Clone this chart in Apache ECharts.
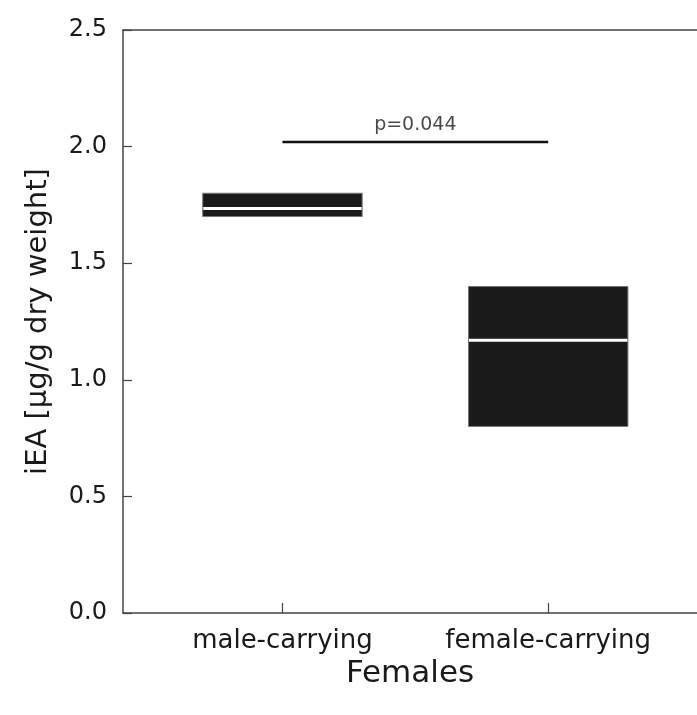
<!DOCTYPE html>
<html>
<head>
<meta charset="utf-8">
<script src="https://cdn.jsdelivr.net/npm/echarts@6/dist/echarts.min.js"></script>
<style>html,body{margin:0;padding:0;background:#fff;}#c{width:697px;height:715px;}</style>
</head>
<body>
<div id="c"></div>
<script>
var categories = ['male-carrying', 'female-carrying'];
var positions = [1, 2];
var q1Values = [1.70, 0.80];
var medianValues = [1.735, 1.17];
var q3Values = [1.80, 1.40];
var yTicks = [0, 0.5, 1.0, 1.5, 2.0, 2.5];
var sigFrom = 1, sigTo = 2, sigLevel = 2.02;
var sigText = 'p=0.044';

var FONT = 'DejaVu Sans';
var boxHalf = 0.3;
var AX = '#444';

var boxData = positions.map(function (p, i) { return [p, q1Values[i], medianValues[i], q3Values[i]]; });

var chart = echarts.init(document.getElementById('c'));
chart.setOption({
  animation: false,
  backgroundColor: '#fff',
  grid: { left: 123, top: 30, right: 0, bottom: 102 },
  xAxis: [{
    type: 'value', min: 0.4, max: 2.56,
    splitLine: { show: false },
    axisLine: { show: true, lineStyle: { color: AX, width: 1.5 } },
    axisTick: { show: true, inside: true, length: 10, customValues: positions, lineStyle: { color: AX, width: 1.2 } },
    axisLabel: { customValues: positions, margin: 15, fontFamily: FONT, fontSize: 26, color: '#1a1a1a',
      formatter: function (v) { var i = positions.indexOf(v); return i >= 0 ? categories[i] : ''; } },
    name: 'Females', nameLocation: 'middle', nameGap: 44,
    nameTextStyle: { fontFamily: FONT, fontSize: 31, color: '#1a1a1a' }
  }, {
    type: 'value', position: 'top', min: 0.4, max: 2.56,
    splitLine: { show: false },
    axisLine: { show: true, lineStyle: { color: AX, width: 1.5 } },
    axisTick: { show: false }, axisLabel: { show: false }
  }],
  yAxis: {
    type: 'value', min: yTicks[0], max: yTicks[yTicks.length - 1], interval: 0.5,
    splitLine: { show: false },
    axisLine: { show: true, lineStyle: { color: AX, width: 1.5 } },
    axisTick: { show: true, inside: true, length: 9, lineStyle: { color: AX, width: 1.2 } },
    axisLabel: { margin: 16, fontFamily: FONT, fontSize: 24, color: '#1a1a1a',
      formatter: function (v) { return v.toFixed(1); } },
    name: 'iEA [µg/g dry weight]', nameLocation: 'middle', nameGap: 70,
    nameTextStyle: { fontFamily: FONT, fontSize: 29, color: '#1a1a1a' }
  },
  series: [
    {
      type: 'custom',
      data: boxData,
      renderItem: function (params, api) {
        var x = api.value(0);
        var tl = api.coord([x - boxHalf, api.value(3)]);
        var br = api.coord([x + boxHalf, api.value(1)]);
        var ml = api.coord([x - boxHalf, api.value(2)]);
        var mr = api.coord([x + boxHalf, api.value(2)]);
        return {
          type: 'group',
          children: [
            { type: 'rect', shape: { x: tl[0], y: tl[1], width: br[0] - tl[0], height: br[1] - tl[1] },
              style: { fill: '#1a1a1a', stroke: '#777', lineWidth: 1 } },
            { type: 'line', shape: { x1: ml[0] + 0.5, y1: ml[1], x2: mr[0] - 0.5, y2: mr[1] },
              style: { stroke: '#fff', lineWidth: 3 } }
          ]
        };
      },
      z: 3
    },
    {
      type: 'line',
      data: [[sigFrom, sigLevel], [sigTo, sigLevel]],
      symbol: 'none',
      lineStyle: { color: '#111', width: 2.5 },
      z: 4
    },
    {
      type: 'scatter',
      data: [[(sigFrom + sigTo) / 2, sigLevel]],
      symbolSize: 0,
      label: { show: true, position: 'top', distance: 7, formatter: sigText, fontFamily: FONT, fontSize: 19, color: '#1a1a1a' },
      z: 5
    }
  ]
});
</script>
</body>
</html>
